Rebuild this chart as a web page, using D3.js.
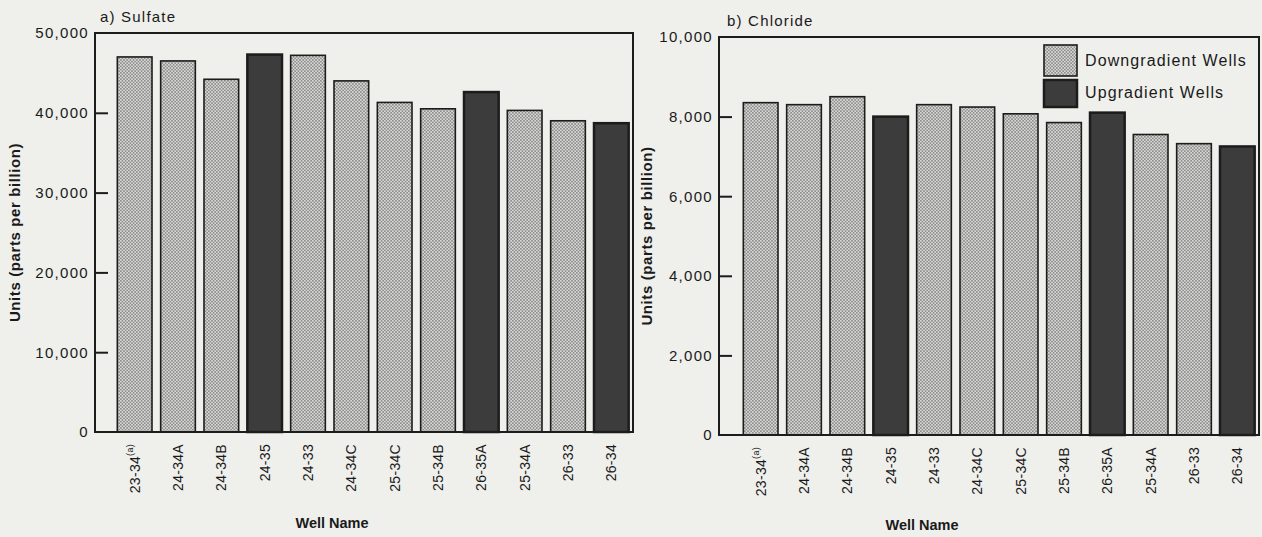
<!DOCTYPE html>
<html><head><meta charset="utf-8">
<script src="https://cdn.jsdelivr.net/npm/d3@7"></script>
<style>
html,body{margin:0;padding:0;background:#efefec;}
svg{display:block;}
text{font-family:"Liberation Sans",Arial,sans-serif;fill:#1a1a1a;}
</style></head>
<body>
<svg id="c" width="1262" height="537"></svg>
<script>
const wells = ["23-34","24-34A","24-34B","24-35","24-33","24-34C","25-34C","25-34B","26-35A","25-34A","26-33","26-34"];
const wellType = ["down","down","down","up","down","down","down","down","up","down","down","up"];
const sulfate = [47000,46500,44200,47300,47200,44000,41300,40500,42600,40300,39000,38700];
const chloride = [8350,8300,8500,8000,8300,8240,8070,7850,8100,7550,7320,7250];
const sulfateTicks = [0,10000,20000,30000,40000,50000];
const chlorideTicks = [0,2000,4000,6000,8000,10000];
const legendLabels = ["Downgradient Wells","Upgradient Wells"];

const svg = d3.select("#c");
const defs = svg.append("defs");
const pat = defs.append("pattern").attr("id","hatch").attr("patternUnits","userSpaceOnUse")
  .attr("width",3.2).attr("height",3.2);
pat.append("rect").attr("width",3.2).attr("height",3.2).attr("fill","#d8d8d6");
pat.append("rect").attr("x",0).attr("y",0).attr("width",1.6).attr("height",1.6).attr("fill","#8e8e8c");
pat.append("rect").attr("x",1.6).attr("y",1.6).attr("width",1.6).attr("height",1.6).attr("fill","#8e8e8c");

const fills = {down:"url(#hatch)", up:"#3c3c3c"};
const fmt = d3.format(",");

function panel(opt){
  const g = svg.append("g");
  const y = d3.scaleLinear().domain([0,opt.max]).range([opt.bottom,opt.top]);
  const x = d3.scaleBand().domain(wells).range([opt.bandL,opt.bandR]).paddingInner(0.2).paddingOuter(0.1);
  g.selectAll("rect.bar").data(opt.values).join("rect").attr("class","bar")
    .attr("x",(d,i)=>x(wells[i])).attr("width",x.bandwidth())
    .attr("y",d=>y(d)).attr("height",d=>y(0)-y(d))
    .attr("fill",(d,i)=>fills[wellType[i]])
    .attr("stroke","#1c1c1c").attr("stroke-width",(d,i)=>wellType[i]==="up"?2.5:1.6);
  g.append("rect").attr("x",opt.left).attr("y",opt.top).attr("width",opt.right-opt.left).attr("height",opt.bottom-opt.top)
    .attr("fill","none").attr("stroke","#1c1c1c").attr("stroke-width",2);
  const ya = g.append("g").attr("transform",`translate(${opt.left},0)`)
    .call(d3.axisLeft(y).tickValues(opt.ticks).tickSize(-13).tickPadding(6).tickFormat(fmt));
  ya.select(".domain").remove();
  ya.selectAll(".tick line").attr("stroke","#1c1c1c").attr("stroke-width",2);
  ya.selectAll(".tick text").attr("font-size",15).style("letter-spacing","1.3px")
    .style("font-family","'Liberation Sans',Arial,sans-serif").attr("fill","#1a1a1a");
  ya.selectAll(".tick").filter(d=>d===0||d===opt.max).select("line").remove();
  const xl = g.selectAll("text.xl").data(wells).join("text").attr("class","xl")
    .attr("transform",d=>`translate(${x(d)+x.bandwidth()/2},${opt.bottom+12}) rotate(-90)`)
    .attr("text-anchor","end").attr("dy","0.35em").attr("font-size",14).style("letter-spacing","0.3px");
  xl.append("tspan").text(d=>d);
  xl.filter((d,i)=>i===0).append("tspan").attr("font-size",9).attr("dy","-0.7em").text("(a)");
  g.append("text").attr("x",opt.titleX).attr("y",opt.titleY).attr("font-size",15).style("letter-spacing","1.2px").text(opt.title);
  g.append("text").attr("transform",`translate(${opt.ylabX},${(opt.top+opt.bottom)/2}) rotate(-90)`)
    .attr("text-anchor","middle").attr("font-size",15).attr("font-weight","bold").style("letter-spacing","0.6px")
    .attr("fill","#2a2a2a").text("Units (parts per billion)");
  g.append("text").attr("x",opt.xlabX).attr("y",opt.xlabY).attr("text-anchor","middle").attr("font-size",14.5)
    .attr("font-weight","bold").attr("fill","#2a2a2a").text("Well Name");
  return g;
}

panel({values:sulfate,max:50000,ticks:sulfateTicks,left:95,right:633,top:33,bottom:432,bandL:113,bandR:633,
  title:"a) Sulfate",titleX:100,titleY:22,ylabX:20,xlabX:332,xlabY:528});
panel({values:chloride,max:10000,ticks:chlorideTicks,left:719,right:1259,top:37,bottom:435,bandL:739,bandR:1259,
  title:"b) Chloride",titleX:727,titleY:26,ylabX:652,xlabX:922,xlabY:530});

const lg = svg.append("g");
const legKeys = ["down","up"];
lg.selectAll("rect").data(legKeys).join("rect")
  .attr("x",1044).attr("y",(d,i)=>45+i*35).attr("width",33).attr("height",(d,i)=>i===0?31:27)
  .attr("fill",d=>fills[d]).attr("stroke","#1c1c1c").attr("stroke-width",(d,i)=>i===0?1.6:2.5);
lg.selectAll("text").data(legendLabels).join("text")
  .attr("x",1085).attr("y",(d,i)=>66+i*32).attr("font-size",16).style("letter-spacing","1.1px").text(d=>d);
</script>
</body></html>
